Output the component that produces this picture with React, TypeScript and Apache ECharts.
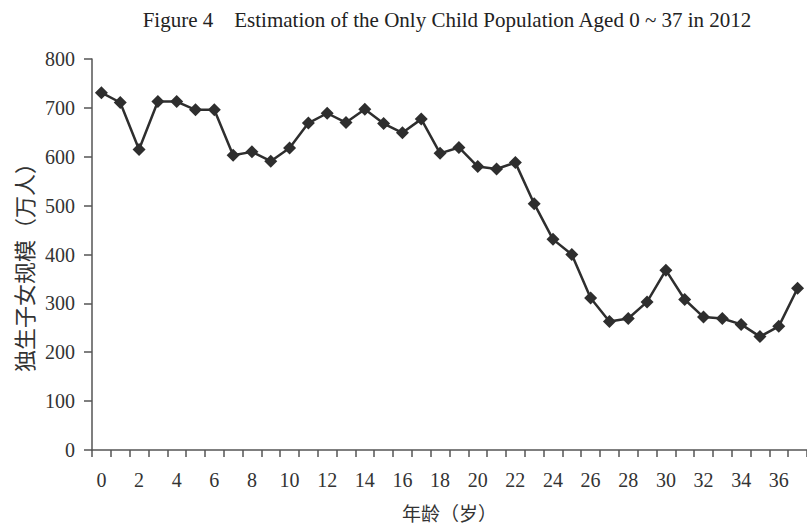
import React, { useEffect, useRef } from "react";
import * as echarts from "echarts";

const titleText = "Figure 4    Estimation of the Only Child Population Aged 0 ~ 37 in 2012";
const xAxisName = "年龄（岁）";
const yAxisName = "独生子女规模（万人）";
const ages = [
  "0", "1", "2", "3", "4", "5", "6", "7", "8", "9",
  "10", "11", "12", "13", "14", "15", "16", "17", "18", "19",
  "20", "21", "22", "23", "24", "25", "26", "27", "28", "29",
  "30", "31", "32", "33", "34", "35", "36", "37",
];
const population = [
  731, 711, 615, 713, 713, 696, 696, 603, 610, 591,
  618, 669, 689, 670, 697, 668, 649, 677, 607, 619,
  580, 575, 588, 504, 431, 400, 311, 263, 269, 303,
  368, 308, 272, 269, 257, 232, 253, 331,
];
const yMin = 0;
const yMax = 800;
const yStep = 100;

export default function App() {
  const ref = useRef<HTMLDivElement>(null);
  useEffect(() => {
    if (!ref.current) return;
    const chart = echarts.init(ref.current, null, { renderer: "svg" });
    const serif = "'Liberation Serif', 'DejaVu Serif', serif";
    const cjk = "'Noto Sans CJK SC', sans-serif";
    chart.setOption({
      animation: false,
      backgroundColor: "#ffffff",
      title: {
        text: titleText,
        left: 447,
        textAlign: "center",
        top: 9,
        padding: 0,
        textStyle: {
          fontFamily: serif,
          fontSize: 21,
          fontWeight: "normal",
          color: "#222",
        },
      },
      grid: { left: 92, right: -9, top: 59, bottom: 71, containLabel: false },
      xAxis: {
        type: "category",
        data: ages,
        boundaryGap: true,
        name: xAxisName,
        nameLocation: "middle",
        nameGap: 53,
        nameTextStyle: { fontFamily: cjk, fontSize: 19, color: "#333" },
        axisLine: { show: true, lineStyle: { color: "#555", width: 1.5 } },
        axisTick: { show: true, interval: 0, length: 7, lineStyle: { color: "#555", width: 1.5 } },
        axisLabel: {
          interval: 1,
          margin: 20,
          fontFamily: serif,
          fontSize: 20,
          color: "#333",
        },
        splitLine: { show: false },
      },
      yAxis: {
        type: "value",
        min: yMin,
        max: yMax,
        interval: yStep,
        name: yAxisName,
        nameLocation: "middle",
        nameGap: 58,
        nameRotate: 90,
        nameTextStyle: { fontFamily: cjk, fontSize: 22, color: "#333", padding: [0, 15, 0, 0] },
        axisLine: { show: true, lineStyle: { color: "#555", width: 1.5 } },
        axisTick: { show: true, length: 8, lineStyle: { color: "#555", width: 1.5 } },
        axisLabel: { margin: 17, fontFamily: serif, fontSize: 20, color: "#333" },
        splitLine: { show: false },
      },
      series: [
        {
          type: "line",
          data: population,
          symbol: "diamond",
          symbolSize: 13,
          showSymbol: true,
          showAllSymbol: true,
          clip: false,
          lineStyle: { color: "#2e2e2e", width: 2.5 },
          itemStyle: { color: "#2e2e2e", borderWidth: 0 },
        },
      ],
    });
    return () => chart.dispose();
  }, []);
  return (
    <div
      ref={ref}
      style={{ position: "fixed", left: 0, top: 0, width: 807, height: 527 }}
    />
  );
}
